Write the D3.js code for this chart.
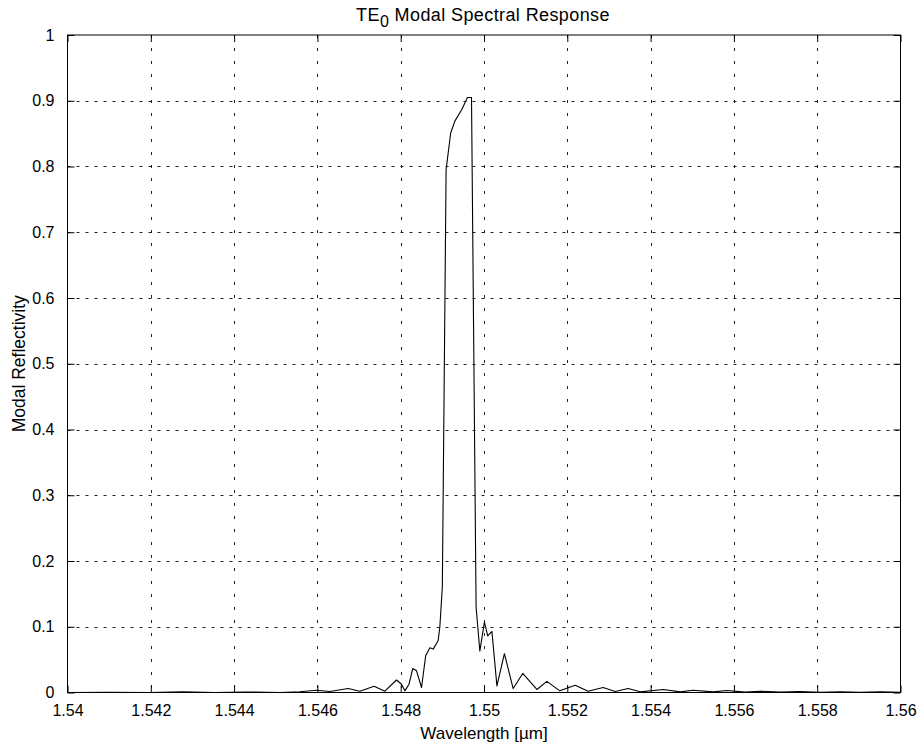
<!DOCTYPE html>
<html>
<head>
<meta charset="utf-8">
<script src="https://cdn.jsdelivr.net/npm/d3@7/dist/d3.min.js"></script>
<style>
  html, body { margin: 0; padding: 0; background: #fff; }
  svg { display: block; }
  text { font-family: "Liberation Sans", Arial, Helvetica, sans-serif; fill: #000; }
</style>
</head>
<body>
<svg id="chart" width="923" height="747"></svg>
<script>
// Wavelength samples (µm) and modal reflectivity of the TE0 mode
const wavelength = [
  1.54000, 1.54102, 1.54198, 1.54277, 1.54354, 1.54426, 1.54510, 1.54558,
  1.54598, 1.54630, 1.54674, 1.54702, 1.54736, 1.54762, 1.54790, 1.54802,
  1.54810, 1.54820, 1.54829, 1.54838, 1.54850, 1.54860, 1.54870, 1.54878,
  1.54890, 1.54894, 1.54900, 1.54909, 1.54920, 1.54930, 1.54947, 1.54958,
  1.54960, 1.54968, 1.54970, 1.54981, 1.54990, 1.55001, 1.55009, 1.55019,
  1.55031, 1.55049, 1.55070, 1.55093, 1.55127, 1.55151, 1.55182, 1.55219,
  1.55250, 1.55286, 1.55315, 1.55346, 1.55375, 1.55431, 1.55471, 1.55502,
  1.55550, 1.55583, 1.55627, 1.55663, 1.55711, 1.55759, 1.55807, 1.55855,
  1.55903, 1.55951, 1.56000
];
const reflectivity = [
  0.0000, 0.0003, 0.0000, 0.0012, 0.0000, 0.0008, 0.0000, 0.0012,
  0.0035, 0.0015, 0.0060, 0.0020, 0.0096, 0.0020, 0.0190, 0.0126,
  0.0025, 0.0126, 0.0366, 0.0330, 0.0076, 0.0560, 0.0680, 0.0660,
  0.0790, 0.1000, 0.1610, 0.7950, 0.8510, 0.8690, 0.8870, 0.9020,
  0.9050, 0.9050, 0.9050, 0.1300, 0.0630, 0.1070, 0.0860, 0.0930,
  0.0100, 0.0590, 0.0060, 0.0290, 0.0046, 0.0170, 0.0025, 0.0110,
  0.0020, 0.0076, 0.0015, 0.0060, 0.0010, 0.0046, 0.0010, 0.0035,
  0.0010, 0.0030, 0.0005, 0.0020, 0.0005, 0.0015, 0.0003, 0.0012,
  0.0003, 0.0010, 0.0003
];

// Axis ticks and their labels
const xTicks = [1.540, 1.542, 1.544, 1.546, 1.548, 1.550, 1.552, 1.554, 1.556, 1.558, 1.560];
const xTickLabels = ["1.54", "1.542", "1.544", "1.546", "1.548", "1.55", "1.552", "1.554", "1.556", "1.558", "1.56"];
const yTicks = [0, 0.1, 0.2, 0.3, 0.4, 0.5, 0.6, 0.7, 0.8, 0.9, 1];
const yTickLabels = ["0", "0.1", "0.2", "0.3", "0.4", "0.5", "0.6", "0.7", "0.8", "0.9", "1"];

const svg = d3.select("#chart");
const plotLeft = 67.5, plotRight = 900.5, plotTop = 35, plotBottom = 692.5;
const tickLen = 7;

const x = d3.scaleLinear().domain([1.54, 1.56]).range([plotLeft, plotRight]);
const y = d3.scaleLinear().domain([0, 1]).range([plotBottom, plotTop]);

// Dotted grid
const grid = svg.append("g").attr("stroke", "#222").attr("stroke-width", 1).attr("fill", "none");
grid.selectAll("line.vx").data(xTicks.slice(1, -1)).join("line")
  .attr("x1", d => Math.round(x(d)) + 0.5).attr("x2", d => Math.round(x(d)) + 0.5)
  .attr("y1", plotTop).attr("y2", plotBottom)
  .attr("stroke-dasharray", "3,10");
grid.selectAll("line.hy").data(yTicks.slice(1, -1)).join("line")
  .attr("y1", d => Math.round(y(d)) + 0.5).attr("y2", d => Math.round(y(d)) + 0.5)
  .attr("x1", plotLeft).attr("x2", plotRight)
  .attr("stroke-dasharray", "3,6");

// Axes with inward ticks on all four sides
const xb = d3.axisBottom(x).tickValues(xTicks).tickSizeInner(-tickLen).tickSizeOuter(0)
  .tickPadding(12).tickFormat((d, i) => xTickLabels[i]);
const xt = d3.axisTop(x).tickValues(xTicks).tickSizeInner(-tickLen).tickSizeOuter(0).tickFormat("");
const yl = d3.axisLeft(y).tickValues(yTicks).tickSizeInner(-tickLen).tickSizeOuter(0)
  .tickPadding(13).tickFormat((d, i) => yTickLabels[i]);
const yr = d3.axisRight(y).tickValues(yTicks).tickSizeInner(-tickLen).tickSizeOuter(0).tickFormat("");

function styleAxis(g) {
  g.select(".domain").remove();
  g.selectAll("line").attr("stroke", "#000");
  g.selectAll("text").attr("font-size", 16).attr("fill", "#000")
    .attr("font-family", "'Liberation Sans', Arial, sans-serif");
}
svg.append("g").attr("transform", `translate(0,${plotBottom})`).call(xb).call(styleAxis);
svg.append("g").attr("transform", `translate(0,${plotTop})`).call(xt).call(styleAxis);
svg.append("g").attr("transform", `translate(${plotLeft},0)`).call(yl).call(styleAxis);
svg.append("g").attr("transform", `translate(${plotRight},0)`).call(yr).call(styleAxis);

// Plot box
svg.append("rect")
  .attr("x", plotLeft).attr("y", plotTop)
  .attr("width", plotRight - plotLeft).attr("height", plotBottom - plotTop)
  .attr("fill", "none").attr("stroke", "#000").attr("stroke-width", 1);

// Reflectivity curve
const pts = wavelength.map((w, i) => [w, reflectivity[i]]);
svg.append("path")
  .datum(pts)
  .attr("fill", "none")
  .attr("stroke", "#000")
  .attr("stroke-width", 1.1)
  .attr("stroke-linejoin", "round")
  .attr("d", d3.line().x(d => x(d[0])).y(d => y(d[1])));

// Title with subscript
const title = svg.append("text")
  .attr("x", 483).attr("y", 21)
  .attr("text-anchor", "middle").attr("font-size", 18)
  .attr("letter-spacing", 0.4);
title.append("tspan").text("TE");
title.append("tspan").attr("dy", 6).attr("font-size", 16).text("0");
title.append("tspan").attr("dy", -6).text(" Modal Spectral Response");

// Axis titles
svg.append("text")
  .attr("x", (plotLeft + plotRight) / 2).attr("y", 739)
  .attr("text-anchor", "middle").attr("font-size", 17)
  .text("Wavelength [\u00b5m]");
svg.append("text")
  .attr("transform", `translate(25,${(plotTop + plotBottom) / 2}) rotate(-90)`)
  .attr("text-anchor", "middle").attr("font-size", 17.5)
  .text("Modal Reflectivity");
</script>
</body>
</html>
